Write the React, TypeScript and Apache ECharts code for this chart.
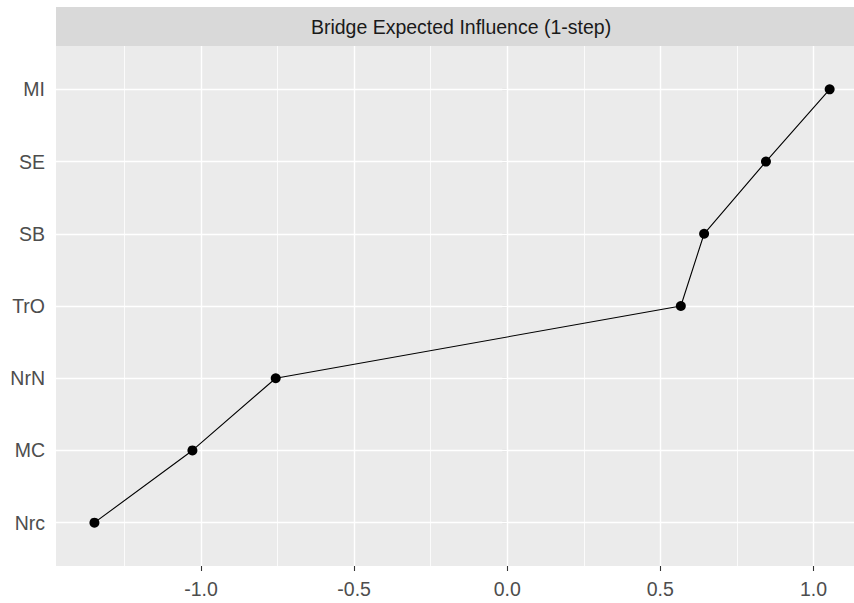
import React, { useEffect, useRef } from "react";
import * as echarts from "echarts";

// Categories from bottom (1) to top (7)
const categories = ["Nrc", "MC", "NrN", "TrO", "SB", "SE", "MI"];
const values = [-1.348, -1.028, -0.756, 0.567, 0.643, 0.845, 1.053];
const xMajorTicks = [-1.0, -0.5, 0.0, 0.5, 1.0];
const xMinorTicks = [-1.25, -0.75, -0.25, 0.25, 0.75];
const stripTitle = "Bridge Expected Influence (1-step)";

export default function App() {
  const ref = useRef<HTMLDivElement>(null);

  useEffect(() => {
    if (!ref.current) return;
    const chart = echarts.init(ref.current, undefined, { renderer: "svg" });
    const yPositions = categories.map((_, i) => i + 1);
    const seriesData = values.map((v, i) => [v, i + 1]);
    const font = "'Liberation Sans', Arial, sans-serif";

    const gridLine = (w: number) => ({
      color: "#FFFFFF",
      width: w,
      type: "solid" as const,
    });

    chart.setOption({
      animation: false,
      backgroundColor: "#FFFFFF",
      textStyle: { fontFamily: font },
      grid: {
        left: 56,
        right: 0,
        top: 46,
        bottom: 37,
        show: true,
        backgroundColor: "#EBEBEB",
        borderWidth: 0,
        containLabel: false,
      },
      graphic: [
        {
          type: "rect",
          shape: { x: 56, y: 7, width: 810, height: 39 },
          style: { fill: "#D9D9D9" },
          silent: true,
        },
        {
          type: "text",
          x: 461,
          y: 27,
          style: {
            text: stripTitle,
            fill: "#1A1A1A",
            fontSize: 19.5,
            fontFamily: font,
            textAlign: "center",
            textVerticalAlign: "middle",
          },
          silent: true,
        },
      ],
      xAxis: {
        type: "value",
        min: -1.4735,
        max: 1.1325,
        axisLine: { show: false },
        axisTick: {
          show: true,
          length: 5,
          customValues: xMajorTicks,
          lineStyle: { color: "#333333", width: 1.1 },
        },
        axisLabel: {
          customValues: xMajorTicks,
          formatter: (v: number) => v.toFixed(1),
          color: "#4D4D4D",
          fontSize: 19.5,
          fontFamily: font,
          margin: 13,
        },
        splitLine: { show: false },
      },
      yAxis: {
        type: "value",
        min: 0.4,
        max: 7.6,
        axisLine: { show: false },
        axisTick: {
          show: true,
          length: 5,
          customValues: yPositions,
          lineStyle: { color: "#333333", width: 1.1 },
        },
        axisLabel: {
          customValues: yPositions,
          formatter: (v: number) => categories[Math.round(v) - 1] ?? "",
          color: "#4D4D4D",
          fontSize: 19.5,
          fontFamily: font,
          margin: 11,
        },
        splitLine: { show: false },
      },
      series: [
        {
          type: "line",
          data: [],
          z: 1,
          silent: true,
          markLine: {
            silent: true,
            z: 1,
            symbol: "none",
            label: { show: false },
            animation: false,
            data: [
              ...xMinorTicks.map((v) => ({ xAxis: v, lineStyle: gridLine(0.8) })),
              ...xMajorTicks.map((v) => ({ xAxis: v, lineStyle: gridLine(1.4) })),
              ...yPositions.map((v) => ({ yAxis: v, lineStyle: gridLine(1.4) })),
            ],
          },
        },
        {
          type: "line",
          data: seriesData,
          z: 10,
          symbol: "circle",
          symbolSize: 10,
          itemStyle: { color: "#000000" },
          lineStyle: { color: "#000000", width: 1.1 },
        },
      ],
    });

    return () => chart.dispose();
  }, []);

  return (
    <div
      ref={ref}
      style={{ position: "absolute", left: 0, top: 0, width: 854, height: 603 }}
    />
  );
}
